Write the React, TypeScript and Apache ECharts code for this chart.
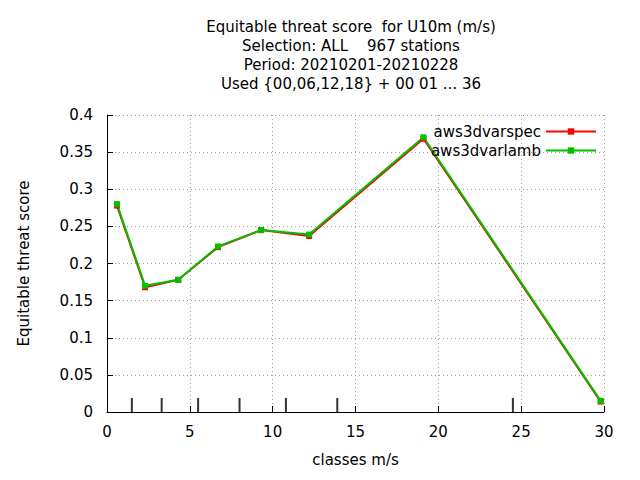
import { useEffect, useRef } from "react";
import * as echarts from "echarts";

const classX = [0.6, 2.3, 4.3, 6.7, 9.3, 12.2, 19.1, 29.8];
const varspec = [0.278, 0.168, 0.178, 0.222, 0.245, 0.237, 0.368, 0.014];
const varlamb = [0.280, 0.170, 0.178, 0.223, 0.245, 0.239, 0.370, 0.015];
const classLimits = [1.5, 3.3, 5.5, 8.0, 10.8, 13.9, 24.5];

const titleLines = [
  "Equitable threat score  for U10m (m/s)",
  "Selection: ALL    967 stations",
  "Period: 20210201-20210228",
  "Used {00,06,12,18} + 00 01 ... 36",
];

export default function App() {
  const chartRef = useRef<HTMLDivElement>(null);

  useEffect(() => {
    if (!chartRef.current) return;
    const chart = echarts.init(chartRef.current, undefined, { renderer: "svg" });
    const font = "DejaVu Sans";
    const gridLine = { show: true, lineStyle: { color: "#a0a0a0", type: [1, 3] as number[], width: 1 } };
    chart.setOption({
      animation: false,
      textStyle: { fontFamily: font },
      title: {
        text: titleLines.join("\n"),
        left: 338,
        top: 4,
        textAlign: "center",
        textStyle: { fontSize: 15, fontWeight: "normal", color: "#000", lineHeight: 19, fontFamily: font },
      },
      legend: {
        right: 30,
        top: 111,
        orient: "vertical",
        align: "right",
        itemWidth: 50,
        itemHeight: 8,
        itemGap: 4,
        textStyle: { fontSize: 15, color: "#000", fontFamily: font },
        data: ["aws3dvarspec", "aws3dvarlamb"],
      },
      grid: { left: 94, right: 28, top: 107, bottom: 53 },
      xAxis: {
        type: "value",
        min: 0,
        max: 30,
        interval: 5,
        name: "classes m/s",
        nameLocation: "middle",
        nameGap: 40,
        nameTextStyle: { fontSize: 15, color: "#000" },
        axisLine: { show: true, onZero: false, lineStyle: { color: "#000" } },
        axisTick: { inside: true, length: 6, lineStyle: { color: "#000" } },
        axisLabel: { fontSize: 15, color: "#000", margin: 12 },
        splitLine: gridLine,
      },
      yAxis: {
        type: "value",
        min: 0,
        max: 0.4,
        interval: 0.05,
        name: "Equitable threat score",
        nameLocation: "middle",
        nameGap: 76,
        nameTextStyle: { fontSize: 15, color: "#000" },
        axisLine: { show: true, lineStyle: { color: "#000" } },
        axisTick: { inside: true, length: 6, lineStyle: { color: "#000" } },
        axisLabel: { fontSize: 15, color: "#000", margin: 14, formatter: (v: number) => String(+v.toFixed(2)) },
        splitLine: gridLine,
      },
      series: [
        {
          name: "aws3dvarspec",
          type: "line",
          data: classX.map((x, i) => [x, varspec[i]]),
          color: "#ff0000",
          lineStyle: { width: 2 },
          symbol: "rect",
          symbolSize: 6,
        },
        {
          name: "aws3dvarlamb",
          type: "line",
          data: classX.map((x, i) => [x, varlamb[i]]),
          color: "#00c000",
          lineStyle: { width: 2 },
          symbol: "rect",
          symbolSize: 6,
        },
        {
          name: "limits",
          type: "scatter",
          data: classLimits.map((x) => [x, 0.0095]),
          symbol: "rect",
          symbolSize: [2, 14],
          itemStyle: { color: "#000" },
          silent: true,
        },
      ],
    });
    return () => chart.dispose();
  }, []);

  return <div ref={chartRef} style={{ width: 624, height: 464 }} />;
}
